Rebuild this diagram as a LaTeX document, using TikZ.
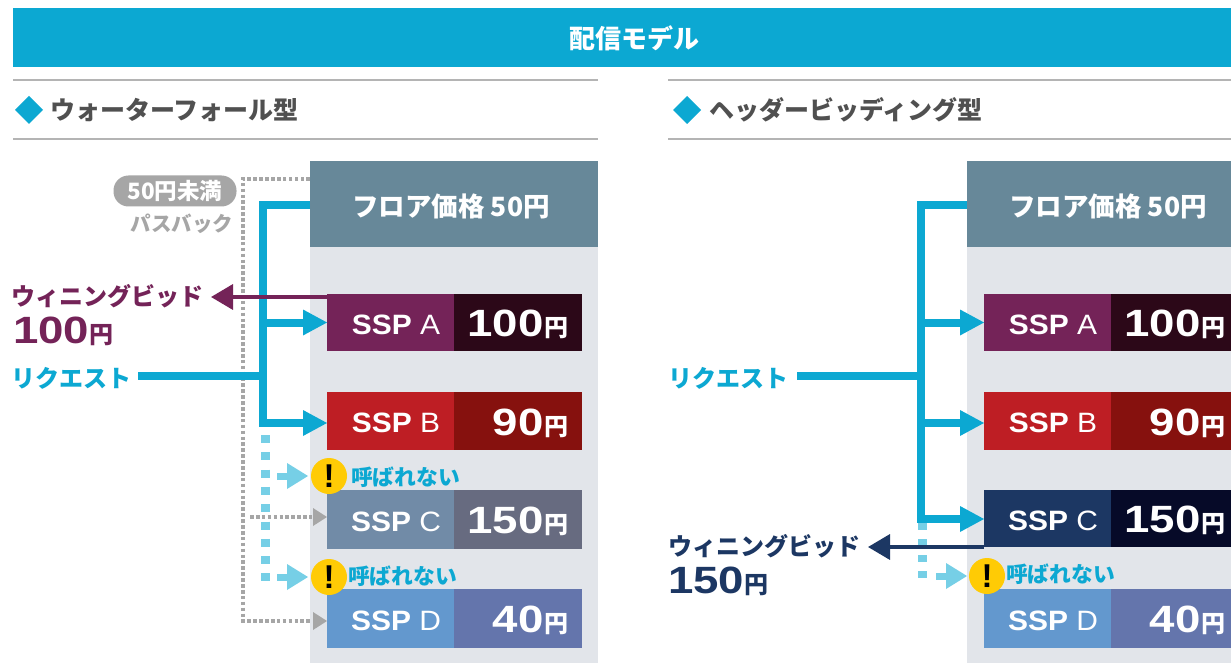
\documentclass[tikz,border=0pt]{standalone}
\usepackage{fontspec}
\setmainfont{Liberation Sans}
\newfontfamily\jp{Noto Sans CJK JP}
\newfontfamily\widenum{Liberation Sans}[FakeStretch=1.2]
\newfontfamily\widessp{Liberation Sans}[FakeStretch=1.07]
\usetikzlibrary{arrows.meta,calc}
\definecolor{cyanb}{HTML}{0CA8D2}
\definecolor{floorc}{HTML}{678899}
\definecolor{panelc}{HTML}{E2E5EA}
\definecolor{rulec}{HTML}{B4B4B4}
\definecolor{headc}{HTML}{505050}
\definecolor{plum}{HTML}{742358}
\definecolor{plumd}{HTML}{2C0818}
\definecolor{redl}{HTML}{BE1E24}
\definecolor{redd}{HTML}{86110E}
\definecolor{cl}{HTML}{718BA7}
\definecolor{cd}{HTML}{676B80}
\definecolor{dl}{HTML}{6398CE}
\definecolor{dd}{HTML}{6475AC}
\definecolor{navy}{HTML}{1C3763}
\definecolor{navyd}{HTML}{060A28}
\definecolor{passg}{HTML}{A6A6A6}
\definecolor{lcyan}{HTML}{76CFE6}
\definecolor{warn}{HTML}{FFCB05}
\newcommand{\yenmark}{{\jp\bfseries\fontsize{24}{24}\selectfont 円}}
\tikzset{
  x=1pt,y=-1pt,
  txt/.style={inner sep=0pt,outer sep=0pt,font=\jp\bfseries},
  rulel/.style={draw=rulec,line width=1.5pt},
  req/.style={draw=cyanb,line width=8pt},
  reqa/.style={req,-{Triangle[length=24pt,width=26pt,line width=0pt]}},
  miss/.style={draw=lcyan,line width=9pt,dash pattern=on 8pt off 9.3pt},
  pass/.style={draw=passg,line width=3.6pt,dash pattern=on 3.6pt off 2.3pt},
  passa/.style={fill=passg,draw=none},
  head/.style={txt,anchor=west,text=headc,font=\jp\bfseries\fontsize{25}{25}\selectfont},
  floor/.style={txt,text=white,font=\jp\bfseries\fontsize{26.5}{26.5}\selectfont},
  labl/.style={txt,font=\jp\bfseries\fontsize{24}{24}\selectfont,anchor=west},
  noc/.style={txt,text=cyanb,font=\jp\bfseries\fontsize{21.8}{21.8}\selectfont,anchor=west},
  warnc/.style={circle,fill=warn,minimum size=36pt,inner sep=0pt,text=black,font=\fontsize{33}{33}\selectfont\bfseries},
  sspn/.style={txt,text=white,font=\widessp\fontsize{28}{28}\selectfont\bfseries},
  pricen/.style={txt,text=white,anchor=base east,font=\widenum\fontsize{38}{38}\selectfont\bfseries},
  bignum/.style={txt,anchor=base west,font=\widenum\fontsize{38}{38}\selectfont\bfseries},
}
\newcommand{\sspbox}[9]{% name, x-left, top, bottom, light, dark, label, price, right
  \path[fill=#5] (#2,#3) rectangle (#2+127,#4);
  \path[fill=#6] (#2+127,#3) rectangle (#9,#4);
  \coordinate (#1) at (#2,{(#3+#4)/2});
  \node[sspn] (#1t) at (#2+69,{(#3+#4)/2+2}) {SSP {\mdseries #7}};
  \node[pricen] (#1p) at (#2+241,{(#3+#4)/2+14}) {#8\hspace{0.5pt}\yenmark};
}
\newcommand{\missarrow}[2]{% tail x, y
  \path[fill=lcyan] (#1,#2-3.5) rectangle (#1+10,#2+3.5);
  \path[fill=lcyan] (#1+10,#2-13) -- (#1+31,#2) -- (#1+10,#2+13) -- cycle;
}
\begin{document}
\begin{tikzpicture}
\useasboundingbox[fill=white] (0,0) rectangle (1231,663);
% banner
\path[fill=cyanb] (13,8) rectangle (1231,67);
\node[txt,text=white,font=\jp\bfseries\fontsize{26}{26}\selectfont] (ttl) at (634,38) {配信モデル};
% rules and headings
\draw[rulel] (13,80) -- (598,80);
\draw[rulel] (13,139) -- (598,139);
\draw[rulel] (668,80) -- (1231,80);
\draw[rulel] (668,139) -- (1231,139);
\path[fill=cyanb] (15,110) -- (29,96) -- (43,110) -- (29,124) -- cycle;
\path[fill=cyanb] (673,110) -- (687,96) -- (701,110) -- (687,124) -- cycle;
\node[head] (h1) at (50,110) {ウォーターフォール型};
\node[head] (h2) at (709,110) {ヘッダービッディング型};
% panels
\path[fill=panelc] (310,247) rectangle (598,663);
\path[fill=panelc] (967,247) rectangle (1231,663);
\node[txt,fill=floorc,minimum width=288pt,minimum height=86pt,anchor=north west] (fl) at (310,161) {};
\node[txt,fill=floorc,minimum width=288pt,minimum height=86pt,anchor=north west] (fr) at (967,161) {};
\node[floor] (flt) at (451,206) {フロア価格 50円};
\node[floor] (frt) at (1108,206) {フロア価格 50円};
% pass-back dotted line
\coordinate (pbt) at (243,179);
\coordinate (pbb) at (243,621);
\coordinate (pbc) at (250,517);
\draw[pass] (fl.west |- pbt) -- (pbt) -- (pbb) -- (312,621);
\draw[pass] (pbc) -- (312,517);
% boxes left
\sspbox{la}{327}{294}{351}{plum}{plumd}{A}{100}{582}
\sspbox{lb}{327}{392}{450}{redl}{redd}{B}{90}{582}
\sspbox{lc}{327}{490}{549}{cl}{cd}{C}{150}{582}
\sspbox{ld}{327}{589}{648}{dl}{dd}{D}{40}{582}
% boxes right
\sspbox{ra}{984}{294}{351}{plum}{plumd}{A}{100}{1231}
\sspbox{rb}{984}{392}{450}{redl}{redd}{B}{90}{1231}
\sspbox{rc}{984}{490}{547}{navy}{navyd}{C}{150}{1231}
\sspbox{rd}{984}{589}{648}{dl}{dd}{D}{40}{1231}
% grey pass-back arrows
\path[passa] (313,508) -- (327,517) -- (313,526) -- cycle;
\path[passa] (313,612) -- (327,621) -- (313,630) -- cycle;
% pass-back labels
\node[txt,fill=passg,rounded corners=15pt,minimum width=123pt,minimum height=31pt,text=white,font=\jp\bfseries\fontsize{22.5}{22.5}\selectfont] (p50) at (175,191) {50円未満};
\node[txt,text=passg,font=\jp\bfseries\fontsize{20.5}{20.5}\selectfont] (pbk) at (182,224) {パスバック};
% winning bid left text
\node[labl,text=plum] (wl) at (12,296) {ウィニングビッド};
\node[bignum,text=plum] (wlp) at (13,343) {100\hspace{0.5pt}\yenmark};
% request left
\node[labl,text=cyanb] (rql) at (11,378) {リクエスト};
\coordinate (jl) at (263,376);
\coordinate (tl) at (263,205);
\coordinate (bl) at (263,423);
\coordinate (lbh) at (327,423);
\draw[req] (138,376) -- (jl);
\draw[reqa] (fl.west |- tl) -- (tl) -- (bl) -- (lbh);
\draw[reqa] (tl |- la) -- (la);
% winning bid left arrow
\coordinate (wla) at (211,297);
\coordinate (wls) at (327,297);
\draw[plum,line width=3.6pt,-{Triangle[length=22pt,width=25pt]}] (wls) -- (wla);
% not-called left
\coordinate (ml) at (265,435);
\coordinate (mlb) at (265,581);
\draw[miss] (ml) -- (mlb);
\missarrow{277}{476}
\missarrow{277}{577}
\node[warnc] (wn1) at (329,476) {!};
\node[warnc] (wn2) at (329,577) {!};
\node[noc] (nc1) at (351,477) {呼ばれない};
\node[noc] (nc2) at (348,576) {呼ばれない};
% request right
\node[labl,text=cyanb] (rqr) at (668,378) {リクエスト};
\coordinate (jr) at (921,376);
\coordinate (tr) at (921,205);
\coordinate (br) at (921,519);
\coordinate (rbh) at (984,423);
\coordinate (rch) at (984,519);
\coordinate (miss3) at (922,523);
\coordinate (miss3b) at (922,580);
\draw[miss,dash pattern=on 7pt off 9pt] (miss3) -- (miss3b);
\draw[req] (797,376) -- (jr);
\draw[reqa] (fr.west |- tr) -- (tr) -- (br) -- (rch);
\draw[reqa] (tr |- ra) -- (ra);
\draw[reqa] (tr |- rbh) -- (rbh);
% winning bid right
\node[labl,text=navy] (wr) at (668,546) {ウィニングビッド};
\node[bignum,text=navy] (wrp) at (668,593) {150\hspace{0.5pt}\yenmark};
\coordinate (wra) at (868,547);
\coordinate (wrs) at (984,547);
\draw[navy,line width=3.6pt,-{Triangle[length=22pt,width=25pt]}] (wrs) -- (wra);
\missarrow{936}{576}
\node[warnc] (wn3) at (987,576) {!};
\node[noc] (nc3) at (1006,574) {呼ばれない};
\end{tikzpicture}
\end{document}
